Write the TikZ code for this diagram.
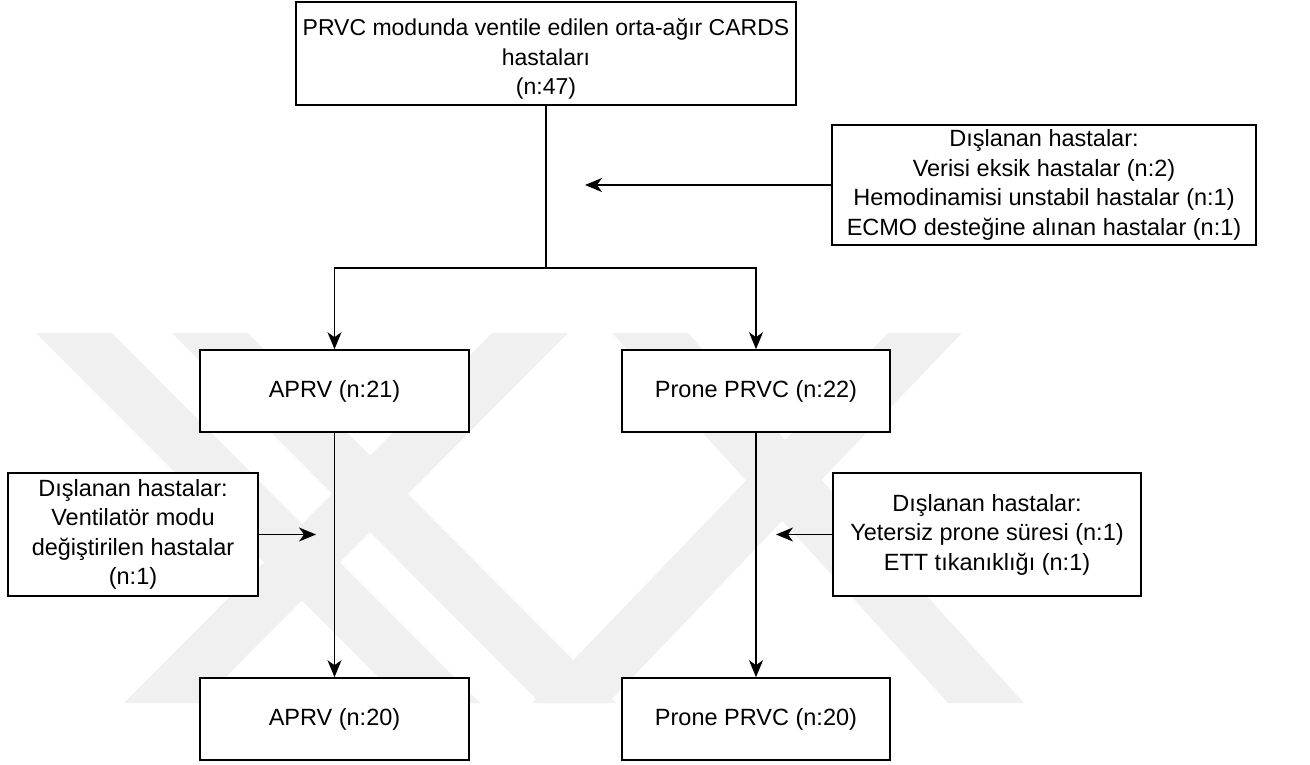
\documentclass[tikz,border=0pt]{standalone}
\usepackage{fontspec}
\setmainfont{Liberation Sans}
\usetikzlibrary{arrows.meta}

\tikzset{
  box/.style={draw=black, line width=1.6pt, fill=white, align=center,
    inner sep=0pt, font=\fontsize{23.5}{29.5}\selectfont},
  boxtext/.style={align=center, inner sep=0pt, font=\fontsize{23}{29.5}\selectfont},
  link/.style={draw=black, line width=1.2pt},
  wide link/.style={draw=black, line width=1.8pt},
  tip/.style={-{Stealth[length=17pt,width=14pt,inset=5pt]}},
  mark band/.style={fill=black!6, draw=none}
}

\begin{document}
\begin{tikzpicture}[x=1pt, y=-1pt]
  % page frame
  \path[use as bounding box] (0,0) rectangle (1310,765);

  % faint background emblem
  \fill[mark band] (36,333) -- (112,333) -- (480,703) -- (404,703) -- cycle;
  \fill[mark band] (172,333) -- (248,333) -- (616,703) -- (540,703) -- cycle;
  \fill[mark band] (492,333) -- (568,333) -- (200,703) -- (124,703) -- cycle;
  \fill[mark band] (612,333) -- (688,333) -- (1024,703) -- (948,703) -- cycle;
  \fill[mark band] (888,333) -- (962,333) -- (608,703) -- (532,703) -- cycle;

  % boxes
  \node[box, minimum width=500pt, minimum height=103pt] (top) at (546,53.5) {};
  \node[boxtext] (toptext) at (546,59)
    {PRVC modunda ventile edilen orta-ağır CARDS\\hastaları\\(n:47)};
  \node[box, minimum width=424pt, minimum height=120pt] (ex1) at (1044,185)
    {Dışlanan hastalar:\\Verisi eksik hastalar (n:2)\\Hemodinamisi unstabil hastalar (n:1)\\ECMO desteğine alınan hastalar (n:1)};
  \node[box, minimum width=269pt, minimum height=82pt] (a21) at (334.5,391) {APRV (n:21)};
  \node[box, minimum width=268pt, minimum height=82pt] (p22) at (756,391) {Prone PRVC (n:22)};
  \node[box, minimum width=250pt, minimum height=123pt] (ex2) at (133,534.5)
    {Dışlanan hastalar:\\Ventilatör modu\\değiştirilen hastalar\\(n:1)};
  \node[box, minimum width=308pt, minimum height=123pt] (ex3) at (987,534.5)
    {Dışlanan hastalar:\\Yetersiz prone süresi (n:1)\\ETT tıkanıklığı (n:1)};
  \node[box, minimum width=269pt, minimum height=82pt] (a20) at (334.5,719) {APRV (n:20)};
  \node[box, minimum width=268pt, minimum height=82pt] (p20) at (756,719) {Prone PRVC (n:20)};

  % branching points and free arrow ends
  \coordinate (split) at (546,268);
  \coordinate (splitL) at (334.5,268);
  \coordinate (splitR) at (756,268);
  \coordinate (ex1end) at (585,185);
  \coordinate (ex2end) at (316,534.5);
  \coordinate (ex3end) at (776,534.5);

  % connectors
  \draw[link] (top.south) -- (split);
  \draw[wide link, line cap=rect] (splitL) -- (splitR);
  \draw[link, tip] (splitL) -- (a21.north);
  \draw[link, tip] (splitR) -- (p22.north);
  \draw[link, tip] (a21.south) -- (a20.north);
  \draw[link, tip] (p22.south) -- (p20.north);
  \draw[wide link, tip] (ex1.west) -- (ex1end);
  \draw[wide link, tip] (ex2.east) -- (ex2end);
  \draw[wide link, tip] (ex3.west) -- (ex3end);
\end{tikzpicture}
\end{document}
